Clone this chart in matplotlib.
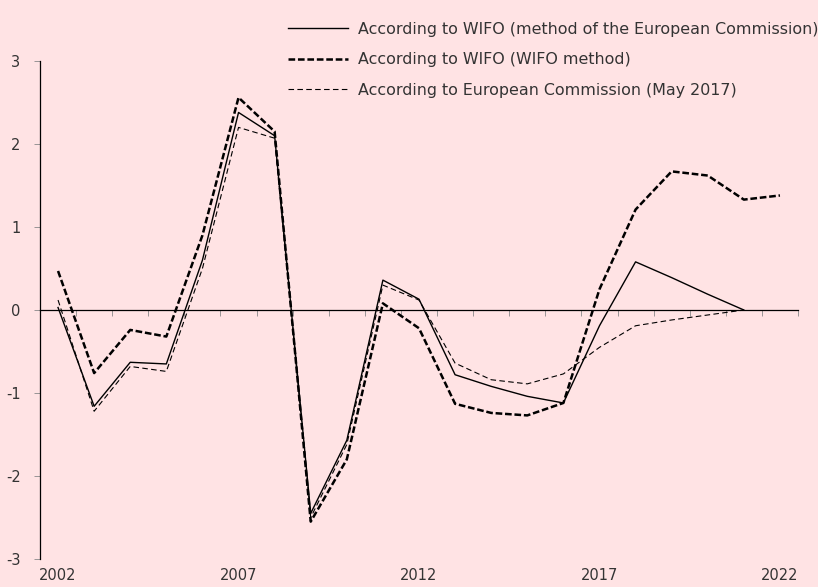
import numpy as np
import matplotlib
matplotlib.use("Agg")
import matplotlib.pyplot as plt
from matplotlib.transforms import blended_transform_factory

# years on the category axis
years = list(range(2002, 2023))
year_labels = ["2002", "2007", "2012", "2017", "2022"]

# output gap, % of potential output
wifo_ec_method = [0.03, -1.16, -0.63, -0.65, 0.60, 2.38, 2.10, -2.45, -1.57, 0.36,
                  0.13, -0.78, -0.92, -1.04, -1.12, -0.19, 0.58, 0.39, 0.19, 0.0, np.nan]
wifo_method = [0.47, -0.76, -0.24, -0.32, 0.90, 2.56, 2.15, -2.55, -1.80, 0.08,
               -0.22, -1.13, -1.24, -1.27, -1.12, 0.25, 1.21, 1.67, 1.62, 1.33, 1.38]
ec_may2017 = [0.12, -1.22, -0.68, -0.74, 0.50, 2.20, 2.07, -2.50, -1.62, 0.30,
              0.12, -0.64, -0.84, -0.89, -0.77, -0.45, -0.19, -0.12, -0.06, 0.0, np.nan]

labels = ["According to WIFO (method of the European Commission)",
          "According to WIFO (WIFO method)",
          "According to European Commission (May 2017)"]

bg = "#ffe3e4"
txt = "#333333"
plt.rcParams["lines.scale_dashes"] = False
plt.rcParams["font.family"] = ["DejaVu Sans"]

fig = plt.figure(figsize=(8.18, 5.87), dpi=100, facecolor=bg)
ax = fig.add_axes([40 / 818, 28 / 587, 758 / 818, 498 / 587])
ax.set_facecolor(bg)

x = np.arange(len(years))
ax.plot(x, wifo_ec_method, color="black", lw=1.0, label=labels[0])
ax.plot(x, wifo_method, color="black", lw=1.8, dashes=(4.8, 2.0), label=labels[1])
ax.plot(x, ec_may2017, color="black", lw=0.8, dashes=(4.0, 2.4), label=labels[2])

ax.set_xlim(-0.5, len(years) - 0.5)
ax.set_ylim(-3, 3)
ax.set_yticks([-3, -2, -1, 0, 1, 2, 3])
ax.set_yticklabels(["-3", "-2", "-1", "0", "1", "2", "3"])

for s in ["top", "right"]:
    ax.spines[s].set_visible(False)
ax.spines["left"].set_linewidth(0.9)
ax.spines["bottom"].set_position(("data", 0))
ax.spines["bottom"].set_linewidth(0.9)

# tick marks between categories on the zero line
ax.set_xticks(np.arange(-0.5, len(years), 1.0))
ax.tick_params(axis="x", direction="out", length=4, width=0.6, color="#888888", labelbottom=False)
ax.tick_params(axis="y", direction="out", length=4, width=0.6, color="#888888",
               labelsize=10.5, labelcolor=txt, pad=10)

trans = blended_transform_factory(ax.transData, ax.transAxes)
for lab in year_labels:
    ax.text(years.index(int(lab)), -0.034, lab, transform=trans, ha="center", va="center",
            fontsize=10.5, color=txt)

leg = ax.legend(loc="upper right", bbox_to_anchor=(819 / 818, 1 - 22 / 587),
                bbox_transform=fig.transFigure, frameon=False, fontsize=11.4,
                handlelength=3.8, handletextpad=0.65, labelspacing=0.97,
                borderaxespad=0, borderpad=0)
for t in leg.get_texts():
    t.set_color(txt)

fig.savefig("out.png", dpi=100, facecolor=bg)
